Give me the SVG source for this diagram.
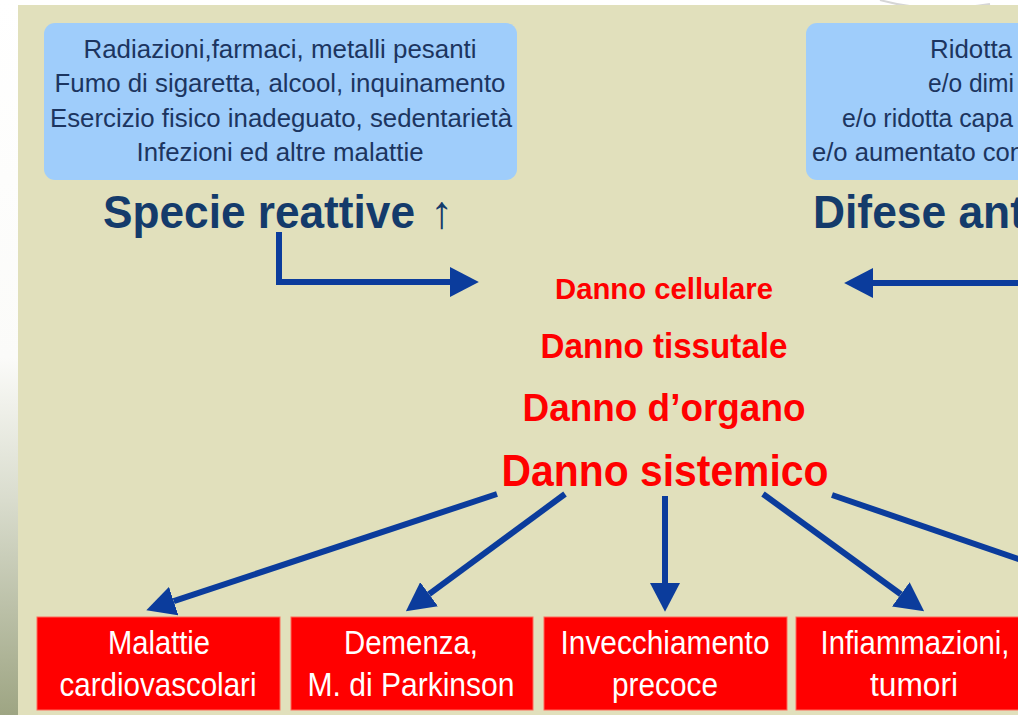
<svg xmlns="http://www.w3.org/2000/svg" width="1018" height="715" viewBox="0 0 1018 715">
  <defs>
    <linearGradient id="side" x1="0" y1="0" x2="0" y2="1">
      <stop offset="0" stop-color="#ffffff"/>
      <stop offset="0.5" stop-color="#fbfbf9"/>
      <stop offset="0.7" stop-color="#d9dccd"/>
      <stop offset="1" stop-color="#9ea583"/>
    </linearGradient>
    <marker id="ah" markerUnits="userSpaceOnUse" markerWidth="30" markerHeight="30" refX="0" refY="13" orient="auto" viewBox="0 0 26 26">
      <path d="M0,0 L25,13 L0,26 z" fill="#0b3c9c"/>
    </marker>
    <style>
      .cause { fill: #1c3560; font-family: "Liberation Sans", Arial, sans-serif; font-size: 25px; text-anchor: middle; }
      .causeR { fill: #1c3560; font-family: "Liberation Sans", Arial, sans-serif; font-size: 25px; }
      .head { fill: #143b6b; font-family: "Liberation Sans", Arial, sans-serif; font-size: 46px; font-weight: bold; }
      .danno { fill: #ff0000; font-family: "Liberation Sans", Arial, sans-serif; font-weight: bold; text-anchor: middle; }
      .bluebox { fill: #9fcdfb; }
      .redbox { fill: #ff0000; stroke: #ff6a5a; stroke-width: 1; }
      .boxtxt { fill: #ffffff; font-family: "Liberation Sans", Arial, sans-serif; font-size: 34px; text-anchor: middle; }
      .conn { fill: none; stroke: #0b3c9c; stroke-width: 6; }
    </style>
  </defs>

  <rect x="0" y="0" width="1018" height="715" fill="#ffffff"/>
  <rect x="0" y="0" width="18" height="715" fill="url(#side)"/>
  <path d="M880,0 Q930,14 990,4" fill="none" stroke="#d6d6d6" stroke-width="2"/>
  <rect x="18" y="5" width="1000" height="710" fill="#e1e0bc"/>

  <g id="cause-left">
    <rect class="bluebox" x="44" y="23" width="473" height="157" rx="11"/>
    <text class="cause" x="280" y="58" textLength="393" lengthAdjust="spacingAndGlyphs">Radiazioni,farmaci, metalli pesanti</text>
    <text class="cause" x="280" y="92" textLength="451" lengthAdjust="spacingAndGlyphs">Fumo di sigaretta, alcool, inquinamento</text>
    <text class="cause" x="281" y="127" textLength="462" lengthAdjust="spacingAndGlyphs">Esercizio fisico inadeguato, sedentarietà</text>
    <text class="cause" x="280" y="161" textLength="287" lengthAdjust="spacingAndGlyphs">Infezioni ed altre malattie</text>
  </g>

  <g id="specie-reattive">
    <text class="head" x="103" y="228" textLength="312" lengthAdjust="spacingAndGlyphs">Specie reattive</text>
    <text class="head" x="430" y="228" font-weight="normal">↑</text>
  </g>

  <g id="cause-right">
    <rect class="bluebox" x="806" y="23" width="240" height="157" rx="11"/>
    <text class="causeR" x="930" y="58" textLength="82" lengthAdjust="spacingAndGlyphs">Ridotta</text>
    <text class="causeR" x="928" y="92" textLength="86" lengthAdjust="spacingAndGlyphs">e/o dimi</text>
    <text class="causeR" x="842" y="127" textLength="171" lengthAdjust="spacingAndGlyphs">e/o ridotta capa</text>
    <text class="causeR" x="812" y="161" textLength="212" lengthAdjust="spacingAndGlyphs">e/o aumentato con</text>
  </g>

  <g id="difese">
    <text class="head" x="813" y="228" textLength="212" lengthAdjust="spacingAndGlyphs">Difese ant</text>
  </g>

  <g id="danno">
    <text class="danno" x="664" y="299" font-size="30" textLength="218" lengthAdjust="spacingAndGlyphs">Danno cellulare</text>
    <text class="danno" x="664" y="358" font-size="35" textLength="247" lengthAdjust="spacingAndGlyphs">Danno tissutale</text>
    <text class="danno" x="664" y="421" font-size="39" textLength="283" lengthAdjust="spacingAndGlyphs">Danno d’organo</text>
    <text class="danno" x="665" y="486" font-size="44" textLength="327" lengthAdjust="spacingAndGlyphs">Danno sistemico</text>
  </g>

  <g id="connectors">
    <path class="conn" d="M279,232 V282 H450" marker-end="url(#ah)"/>
    <path class="conn" d="M1020,283 H873" marker-end="url(#ah)"/>
    <path class="conn" d="M497,494 L173.7,601.1" marker-end="url(#ah)"/>
    <path class="conn" d="M565,494 L429.1,594.2" marker-end="url(#ah)"/>
    <path class="conn" d="M665,496 L665,583" marker-end="url(#ah)"/>
    <path class="conn" d="M763,494 L900.8,594.3" marker-end="url(#ah)"/>
    <path class="conn" d="M832,495 L1020,559.5"/>
  </g>

  <g id="box-cardio">
    <rect class="redbox" x="37" y="617" width="243" height="93"/>
    <text class="boxtxt" x="159" y="654" textLength="102" lengthAdjust="spacingAndGlyphs">Malattie</text>
    <text class="boxtxt" x="158" y="696" textLength="197" lengthAdjust="spacingAndGlyphs">cardiovascolari</text>
  </g>
  <g id="box-demenza">
    <rect class="redbox" x="291" y="617" width="242" height="93"/>
    <text class="boxtxt" x="411" y="654" textLength="134" lengthAdjust="spacingAndGlyphs">Demenza,</text>
    <text class="boxtxt" x="411" y="696" textLength="207" lengthAdjust="spacingAndGlyphs">M. di Parkinson</text>
  </g>
  <g id="box-invecchiamento">
    <rect class="redbox" x="544" y="617" width="243" height="93"/>
    <text class="boxtxt" x="665" y="654" textLength="209" lengthAdjust="spacingAndGlyphs">Invecchiamento</text>
    <text class="boxtxt" x="665" y="696" textLength="106" lengthAdjust="spacingAndGlyphs">precoce</text>
  </g>
  <g id="box-infiammazioni">
    <rect class="redbox" x="796" y="617" width="244" height="93"/>
    <text class="boxtxt" x="915" y="654" textLength="189" lengthAdjust="spacingAndGlyphs">Infiammazioni,</text>
    <text class="boxtxt" x="914" y="696" textLength="88" lengthAdjust="spacingAndGlyphs">tumori</text>
  </g>
</svg>
